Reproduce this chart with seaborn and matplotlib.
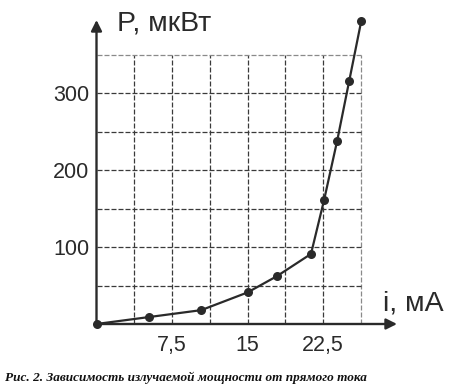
import numpy as np
import pandas as pd
import seaborn as sns
import matplotlib.pyplot as plt

sns.set_style("white")
plt.rcParams['font.family'] = ['Liberation Sans', 'DejaVu Sans']

# forward current, mA and emitted power, uW
current = [0, 5.2, 10.4, 15.0, 17.9, 21.3, 22.6, 23.9, 25.1, 26.3]
power = [0, 9, 18, 41, 62, 91, 161, 238, 316, 394]

x_ticks = [7.5, 15, 22.5]
x_labels = ["7,5", "15", "22,5"]
y_ticks = [100, 200, 300]
y_labels = ["100", "200", "300"]

grid_x = [3.75, 7.5, 11.25, 15, 18.75, 22.5, 26.25]
grid_y = [50, 100, 150, 200, 250, 300, 350]

df = pd.DataFrame({"i": current, "P": power})

W, H = 457, 392
fig = plt.figure(figsize=(W / 100, H / 100), dpi=100)

# pixel mapping: origin at (96.5, 324), 10.07 px per mA, 0.77 px per uW
x0, y0 = 96.5, 324
xmax = (397 - x0) / 10.07
ymax = (y0 - 20) / 0.77
ax = fig.add_axes([x0 / W, (H - y0) / H, (397 - x0) / W, (y0 - 20) / H])
ax.set_xlim(0, xmax)
ax.set_ylim(0, ymax)

ink = "#2a2a2a"

# dashed grid
for gx in grid_x:
    c = "#8a8a8a" if gx == grid_x[-1] else "#3a3a3a"
    ax.vlines(gx, 0, grid_y[-1], colors=c, linestyles=(0, (4, 1.6)), lw=0.9)
for gy in grid_y:
    c = "#8a8a8a" if gy == grid_y[-1] else "#3a3a3a"
    ax.hlines(gy, 0, grid_x[-1], colors=c, linestyles=(0, (4, 1.6)), lw=0.9)

sns.lineplot(data=df, x="i", y="P", ax=ax, color=ink, lw=1.6,
             marker="o", markersize=6.5, markeredgewidth=0, sort=False,
             clip_on=False, zorder=5)

# axes with arrows
for s in ax.spines.values():
    s.set_visible(False)
ax.annotate("", xy=(xmax, 0), xytext=(0, 0),
            arrowprops=dict(arrowstyle="-|>", color=ink, lw=1.7,
                            mutation_scale=16, shrinkA=0, shrinkB=0),
            annotation_clip=False)
ax.annotate("", xy=(0, ymax), xytext=(0, 0),
            arrowprops=dict(arrowstyle="-|>", color=ink, lw=1.7,
                            mutation_scale=16, shrinkA=0, shrinkB=0),
            annotation_clip=False)

ax.set_xticks(x_ticks)
ax.set_xticklabels(x_labels)
ax.set_yticks(y_ticks)
ax.set_yticklabels(y_labels)
ax.tick_params(axis="both", length=0, labelsize=15.5, colors=ink)
ax.tick_params(axis="x", pad=8)
ax.tick_params(axis="y", pad=5)
ax.set_xlabel("")
ax.set_ylabel("")

fig.text(117 / W, 1 - 30 / H, "P, мкВт", fontsize=20.5, color=ink,
         ha="left", va="baseline")
fig.text(383 / W, 1 - 310 / H, "i, мА", fontsize=20.5, color=ink,
         ha="left", va="baseline")
fig.text(5 / W, 1 - 381 / H,
         "Рис. 2. Зависимость излучаемой мощности от прямого тока",
         fontsize=9.5, family="Liberation Serif", style="italic",
         weight="bold", color="#111111", ha="left", va="baseline")

fig.savefig("out.png", dpi=100)
